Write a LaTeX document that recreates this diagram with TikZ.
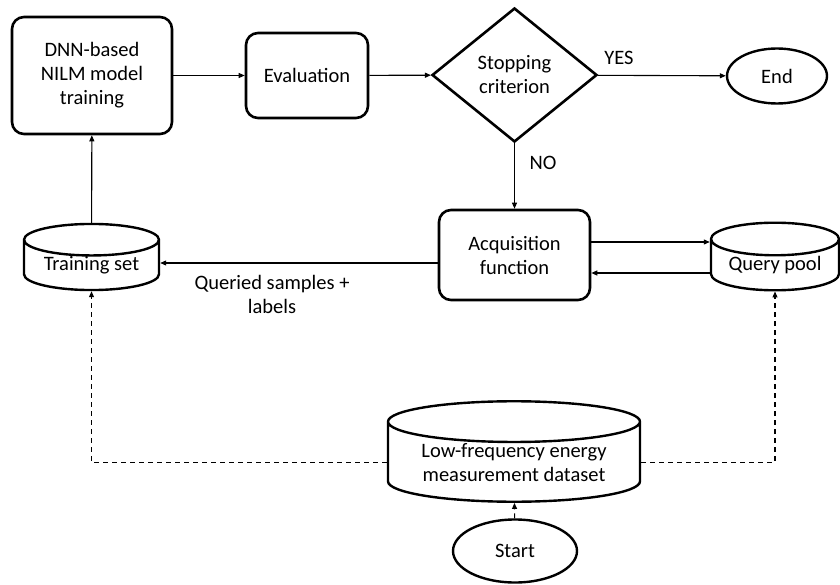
\documentclass[tikz,border=0pt]{standalone}
\usepackage{fontspec}
\setmainfont{Carlito}
\usetikzlibrary{arrows.meta,shapes.geometric}

\begin{document}
\begin{tikzpicture}[x=1pt,y=-1pt,->,>={Triangle[length=6pt,width=5pt]},line width=1.1pt,
  every node/.style={font=\fontsize{20.5}{24}\selectfont,align=center},
  proc node/.style={rectangle,rounded corners=12pt,draw,line width=2.6pt,inner sep=0pt},
  test node/.style={diamond,draw,line width=2.6pt,inner sep=0pt,aspect=1.23,minimum width=165pt,minimum height=134pt},
  term node/.style={ellipse,draw,line width=2.4pt,inner sep=0pt},
  store node/.style={cylinder,shape border rotate=90,draw,line width=2.4pt,inner sep=0pt,anchor=shape center},
  link/.style={dash pattern=on 5pt off 4pt}]
  \useasboundingbox (0,0) rectangle (840,585);
  \node[proc node,minimum width=160pt,minimum height=117pt] (dnn) at (92,75.5) {DNN-based\\NILM model\\training};
  \node[proc node,minimum width=122pt,minimum height=85pt] (eval) at (307,75.5) {Evaluation};
  \node[test node] (stop) at (514.5,75) {Stopping\\criterion};
  \node[term node,minimum width=100pt,minimum height=55pt] (end) at (777,76) {End};
  \node[proc node,minimum width=151pt,minimum height=90pt] (acq) at (514.5,255) {Acquisition\\function};
  \node[store node,aspect=0.33,minimum width=135pt,minimum height=56pt] (train) at (91.5,257) {Training set};
  \node[store node,aspect=0.35,minimum width=128pt,minimum height=57pt] (pool) at (775,256.5) {Query pool};
  \node[store node,aspect=0.22,minimum width=252pt,minimum height=77pt] (data) at (514,451.5) {Low-frequency energy\\measurement dataset};
  \node[term node,minimum width=124pt,minimum height=63pt] (start) at (515,551) {Start};
  \node (yes) at (619,58) {YES};
  \node (no) at (543,163) {NO};
  \node (qs) at (272,294) {Queried samples +\\labels};

  \draw (dnn) -- (eval);
  \draw (eval) -- (stop);
  \draw (stop) -- (end);
  \draw (stop) -- (acq);
  \draw ([yshift=13pt]acq.east) -- ([yshift=13pt]acq.east -| pool.west);
  \draw ([yshift=-18pt]acq.east -| pool.west) -- ([yshift=-18pt]acq.east);
  \draw ([yshift=-8pt]acq.west) -- ([yshift=-8pt]acq.west -| train.east);
  \draw (train) -- (dnn);
  \draw[link] (start) -- (data);
  \draw[link] (data.west) -| (train.south);
  \draw[link] (data.east) -| (pool.south);
\end{tikzpicture}
\end{document}
